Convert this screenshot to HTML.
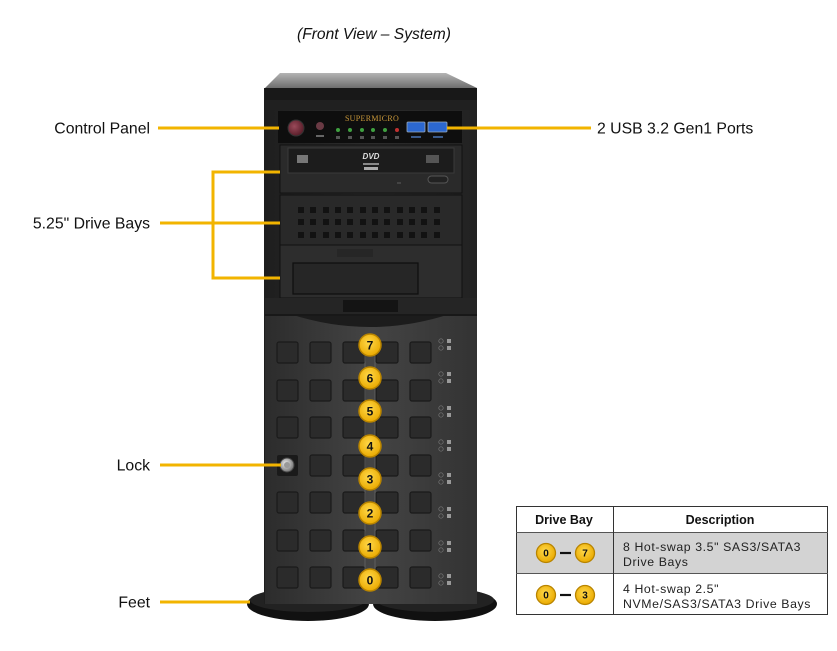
<!DOCTYPE html>
<html><head><meta charset="utf-8"><style>
html,body{margin:0;padding:0;background:#fff;}
svg{display:block;font-family:"Liberation Sans",Arial,sans-serif;}
</style></head><body>
<svg width="837" height="651" viewBox="0 0 837 651" xmlns="http://www.w3.org/2000/svg">
<defs>
<linearGradient id="topg" x1="0" y1="0" x2="0" y2="1"><stop offset="0" stop-color="#b4b4b4"/><stop offset="1" stop-color="#6e6e6e"/></linearGradient>
<linearGradient id="doorg" x1="0" y1="0" x2="1" y2="0"><stop offset="0" stop-color="#2c2c2c"/><stop offset="0.5" stop-color="#444"/><stop offset="1" stop-color="#333"/></linearGradient>
<linearGradient id="bodyg" x1="0" y1="0" x2="1" y2="0"><stop offset="0" stop-color="#1e1e1e"/><stop offset="0.5" stop-color="#2c2c2c"/><stop offset="1" stop-color="#222"/></linearGradient>
<radialGradient id="badge" cx="0.45" cy="0.4" r="0.6"><stop offset="0" stop-color="#ffd84a"/><stop offset="1" stop-color="#eaaa00"/></radialGradient>
<radialGradient id="lockg" cx="0.4" cy="0.4" r="0.6"><stop offset="0" stop-color="#eee"/><stop offset="1" stop-color="#777"/></radialGradient>
<radialGradient id="pwr" cx="0.4" cy="0.4" r="0.6"><stop offset="0" stop-color="#9a4a5a"/><stop offset="1" stop-color="#5a1e2a"/></radialGradient>
</defs>
<rect width="837" height="651" fill="#fff"/>

<text x="374" y="39" font-size="15.6" font-style="italic" text-anchor="middle" fill="#111">(Front View – System)</text>

<!-- feet -->
<ellipse cx="308" cy="604" rx="61" ry="17" fill="#111"/>
<ellipse cx="435" cy="604" rx="62" ry="17" fill="#111"/>
<ellipse cx="308" cy="600" rx="58" ry="12" fill="#222"/>
<ellipse cx="435" cy="600" rx="59" ry="12" fill="#222"/>

<!-- chassis body -->
<rect x="264" y="88" width="213" height="516" fill="url(#bodyg)"/>
<polygon points="280,73 446,73 477,88 265,88" fill="url(#topg)"/>
<rect x="265" y="88" width="212" height="22" fill="#181818"/>
<rect x="265" y="100" width="212" height="10" fill="#202020"/>

<!-- control panel -->
<rect x="278" y="111" width="184" height="32" fill="#0e0e0e"/>
<circle cx="296" cy="128" r="8" fill="url(#pwr)" stroke="#333" stroke-width="1"/>
<circle cx="320" cy="126" r="4" fill="#6a3a44"/>
<rect x="316" y="135" width="8" height="2" fill="#666"/>
<text x="372" y="121" font-family="Liberation Serif,serif" font-size="8" fill="#c9983a" text-anchor="middle" letter-spacing="0.3">SUPERMICRO</text>
<g fill="#3fa040">
<circle cx="338" cy="130" r="2"/><circle cx="350" cy="130" r="2"/><circle cx="362" cy="130" r="2"/><circle cx="373" cy="130" r="2"/><circle cx="385" cy="130" r="2"/>
</g>
<circle cx="397" cy="130" r="2" fill="#c03030"/>
<g fill="#555"><rect x="336" y="136" width="4" height="3"/><rect x="348" y="136" width="4" height="3"/><rect x="360" y="136" width="4" height="3"/><rect x="371" y="136" width="4" height="3"/><rect x="383" y="136" width="4" height="3"/><rect x="395" y="136" width="4" height="3"/></g>
<rect x="407" y="122" width="18" height="10" rx="1" fill="#2c68d0" stroke="#9ab" stroke-width="0.8"/>
<rect x="428" y="122" width="19" height="10" rx="1" fill="#2c68d0" stroke="#9ab" stroke-width="0.8"/>
<rect x="411" y="136" width="10" height="2" fill="#3a5a8a"/><rect x="433" y="136" width="10" height="2" fill="#3a5a8a"/>

<!-- optical bay -->
<rect x="280" y="145" width="182" height="48" fill="#2a2a2a" stroke="#111" stroke-width="1"/>
<rect x="288" y="148" width="166" height="25" fill="#1c1c1c" stroke="#3a3a3a" stroke-width="1"/>
<rect x="297" y="155" width="11" height="8" fill="#777"/>
<rect x="426" y="155" width="13" height="8" fill="#555"/>
<text x="371" y="159" font-size="8" font-style="italic" font-weight="bold" fill="#ddd" text-anchor="middle">DVD</text>
<rect x="363" y="163" width="16" height="2" fill="#888"/><rect x="364" y="167" width="14" height="3" fill="#aaa"/>
<rect x="428" y="176" width="20" height="7" rx="3.5" fill="#222" stroke="#555" stroke-width="1"/>
<rect x="397" y="182" width="4" height="2" fill="#444"/>

<!-- grill bay -->
<rect x="280" y="195" width="182" height="50" fill="#292929" stroke="#111" stroke-width="1"/>
<g fill="#121212">
<rect x="298" y="207" width="6" height="6"/><rect x="310" y="207" width="6" height="6"/><rect x="323" y="207" width="6" height="6"/><rect x="335" y="207" width="6" height="6"/><rect x="347" y="207" width="6" height="6"/><rect x="360" y="207" width="6" height="6"/><rect x="372" y="207" width="6" height="6"/><rect x="384" y="207" width="6" height="6"/><rect x="397" y="207" width="6" height="6"/><rect x="409" y="207" width="6" height="6"/><rect x="421" y="207" width="6" height="6"/><rect x="434" y="207" width="6" height="6"/>
<rect x="298" y="219" width="6" height="6"/><rect x="310" y="219" width="6" height="6"/><rect x="323" y="219" width="6" height="6"/><rect x="335" y="219" width="6" height="6"/><rect x="347" y="219" width="6" height="6"/><rect x="360" y="219" width="6" height="6"/><rect x="372" y="219" width="6" height="6"/><rect x="384" y="219" width="6" height="6"/><rect x="397" y="219" width="6" height="6"/><rect x="409" y="219" width="6" height="6"/><rect x="421" y="219" width="6" height="6"/><rect x="434" y="219" width="6" height="6"/>
<rect x="298" y="232" width="6" height="6"/><rect x="310" y="232" width="6" height="6"/><rect x="323" y="232" width="6" height="6"/><rect x="335" y="232" width="6" height="6"/><rect x="347" y="232" width="6" height="6"/><rect x="360" y="232" width="6" height="6"/><rect x="372" y="232" width="6" height="6"/><rect x="384" y="232" width="6" height="6"/><rect x="397" y="232" width="6" height="6"/><rect x="409" y="232" width="6" height="6"/><rect x="421" y="232" width="6" height="6"/><rect x="434" y="232" width="6" height="6"/>
</g>

<!-- third bay -->
<rect x="280" y="245" width="182" height="53" fill="#2d2d2d" stroke="#111" stroke-width="1"/>
<rect x="337" y="249" width="36" height="8" fill="#262626"/>
<rect x="293" y="263" width="125" height="31" fill="#262626" stroke="#0e0e0e" stroke-width="1.2"/>

<!-- transition band -->
<rect x="265" y="298" width="212" height="16" fill="#252525"/>
<rect x="343" y="300" width="55" height="12" fill="#141414"/>

<!-- door -->
<rect x="265" y="314" width="212" height="290" fill="url(#doorg)"/>
<path d="M290,314 Q370,340 450,314 Z" fill="#1c1c1c"/>
<rect x="265" y="314" width="212" height="2" fill="#181818"/>

<!-- squares grid -->
<g fill="#2b2b2b" stroke="#1a1a1a" stroke-width="1.2">
<rect x="277" y="342" width="21" height="21" rx="2"/><rect x="310" y="342" width="21" height="21" rx="2"/><rect x="343" y="342" width="22" height="21" rx="2"/><rect x="376" y="342" width="22" height="21" rx="2"/><rect x="410" y="342" width="21" height="21" rx="2"/>
<rect x="277" y="380" width="21" height="21" rx="2"/><rect x="310" y="380" width="21" height="21" rx="2"/><rect x="343" y="380" width="22" height="21" rx="2"/><rect x="376" y="380" width="22" height="21" rx="2"/><rect x="410" y="380" width="21" height="21" rx="2"/>
<rect x="277" y="417" width="21" height="21" rx="2"/><rect x="310" y="417" width="21" height="21" rx="2"/><rect x="343" y="417" width="22" height="21" rx="2"/><rect x="376" y="417" width="22" height="21" rx="2"/><rect x="410" y="417" width="21" height="21" rx="2"/>
<rect x="310" y="455" width="21" height="21" rx="2"/><rect x="343" y="455" width="22" height="21" rx="2"/><rect x="376" y="455" width="22" height="21" rx="2"/><rect x="410" y="455" width="21" height="21" rx="2"/>
<rect x="277" y="492" width="21" height="21" rx="2"/><rect x="310" y="492" width="21" height="21" rx="2"/><rect x="343" y="492" width="22" height="21" rx="2"/><rect x="376" y="492" width="22" height="21" rx="2"/><rect x="410" y="492" width="21" height="21" rx="2"/>
<rect x="277" y="530" width="21" height="21" rx="2"/><rect x="310" y="530" width="21" height="21" rx="2"/><rect x="343" y="530" width="22" height="21" rx="2"/><rect x="376" y="530" width="22" height="21" rx="2"/><rect x="410" y="530" width="21" height="21" rx="2"/>
<rect x="277" y="567" width="21" height="21" rx="2"/><rect x="310" y="567" width="21" height="21" rx="2"/><rect x="343" y="567" width="22" height="21" rx="2"/><rect x="376" y="567" width="22" height="21" rx="2"/><rect x="410" y="567" width="21" height="21" rx="2"/>
</g>

<!-- lock -->
<rect x="277" y="455" width="21" height="21" rx="2" fill="#1a1a1a"/>
<circle cx="287" cy="465" r="7" fill="url(#lockg)" stroke="#444" stroke-width="1"/>
<circle cx="287" cy="465" r="3" fill="#999"/>

<!-- LEDs -->
<g fill="#3a3a3a" stroke="#777" stroke-width="0.7">
<circle cx="441" cy="341" r="2.2"/><circle cx="441" cy="348" r="2.2"/>
<circle cx="441" cy="374" r="2.2"/><circle cx="441" cy="381" r="2.2"/>
<circle cx="441" cy="408" r="2.2"/><circle cx="441" cy="415" r="2.2"/>
<circle cx="441" cy="442" r="2.2"/><circle cx="441" cy="449" r="2.2"/>
<circle cx="441" cy="475" r="2.2"/><circle cx="441" cy="482" r="2.2"/>
<circle cx="441" cy="509" r="2.2"/><circle cx="441" cy="516" r="2.2"/>
<circle cx="441" cy="543" r="2.2"/><circle cx="441" cy="550" r="2.2"/>
<circle cx="441" cy="576" r="2.2"/><circle cx="441" cy="583" r="2.2"/>
</g>
<g fill="#9a9a9a">
<rect x="447" y="339" width="4" height="4"/><rect x="447" y="346" width="4" height="4"/>
<rect x="447" y="372" width="4" height="4"/><rect x="447" y="379" width="4" height="4"/>
<rect x="447" y="406" width="4" height="4"/><rect x="447" y="413" width="4" height="4"/>
<rect x="447" y="440" width="4" height="4"/><rect x="447" y="447" width="4" height="4"/>
<rect x="447" y="473" width="4" height="4"/><rect x="447" y="480" width="4" height="4"/>
<rect x="447" y="507" width="4" height="4"/><rect x="447" y="514" width="4" height="4"/>
<rect x="447" y="541" width="4" height="4"/><rect x="447" y="548" width="4" height="4"/>
<rect x="447" y="574" width="4" height="4"/><rect x="447" y="581" width="4" height="4"/>
</g>

<!-- badge connector lines -->
<line x1="365" y1="345" x2="365" y2="580" stroke="#666" stroke-width="0.8"/>
<line x1="375" y1="345" x2="375" y2="580" stroke="#666" stroke-width="0.8"/>

<!-- badges -->
<g stroke="#b88400" stroke-width="1.5" fill="url(#badge)">
<circle cx="370" cy="345" r="11"/><circle cx="370" cy="378" r="11"/><circle cx="370" cy="411" r="11"/><circle cx="370" cy="446" r="11"/>
<circle cx="370" cy="479" r="11"/><circle cx="370" cy="513" r="11"/><circle cx="370" cy="547" r="11"/><circle cx="370" cy="580" r="11"/>
</g>
<g font-size="12" font-weight="bold" fill="#111" text-anchor="middle">
<text x="370" y="349.5">7</text><text x="370" y="382.5">6</text><text x="370" y="415.5">5</text><text x="370" y="450.5">4</text>
<text x="370" y="483.5">3</text><text x="370" y="517.5">2</text><text x="370" y="551.5">1</text><text x="370" y="584.5">0</text>
</g>

<!-- callout lines -->
<g stroke="#f2b400" stroke-width="3" fill="none">
<line x1="158" y1="128" x2="279" y2="128"/>
<line x1="447" y1="128" x2="591" y2="128"/>
<line x1="160" y1="223" x2="280" y2="223"/>
<polyline points="280,172 213,172 213,278 280,278"/>
<line x1="160" y1="465" x2="281" y2="465"/>
<line x1="160" y1="602" x2="250" y2="602"/>
</g>

<!-- labels -->
<g font-size="15.8" fill="#111">
<text x="150" y="133.5" text-anchor="end">Control Panel</text>
<text x="150" y="228.5" text-anchor="end">5.25" Drive Bays</text>
<text x="150" y="470.5" text-anchor="end">Lock</text>
<text x="150" y="607.5" text-anchor="end">Feet</text>
<text x="597" y="133.5">2 USB 3.2 Gen1 Ports</text>
</g>

<!-- table -->
<rect x="516" y="532" width="312" height="42" fill="#d3d3d3"/>
<rect x="516.5" y="506.5" width="311" height="108" fill="none" stroke="#333" stroke-width="1"/>
<line x1="516" y1="532.5" x2="828" y2="532.5" stroke="#555" stroke-width="1"/>
<line x1="516" y1="573.5" x2="828" y2="573.5" stroke="#555" stroke-width="1"/>
<line x1="613.5" y1="506" x2="613.5" y2="615" stroke="#333" stroke-width="1"/>
<g font-size="12.5" font-weight="bold" fill="#111" text-anchor="middle">
<text x="564" y="524">Drive Bay</text>
<text x="720" y="524">Description</text>
</g>
<g font-size="12.3" fill="#222" letter-spacing="0.6">
<text x="623" y="551">8 Hot-swap 3.5" SAS3/SATA3</text>
<text x="623" y="566">Drive Bays</text>
<text x="623" y="593">4 Hot-swap 2.5"</text>
<text x="623" y="608">NVMe/SAS3/SATA3 Drive Bays</text>
</g>
<g stroke="#b88400" stroke-width="1.3" fill="url(#badge)">
<circle cx="546" cy="553" r="9.5"/><circle cx="585" cy="553" r="9.5"/>
<circle cx="546" cy="595" r="9.5"/><circle cx="585" cy="595" r="9.5"/>
</g>
<g stroke="#111" stroke-width="2.2">
<line x1="560" y1="553" x2="571" y2="553"/>
<line x1="560" y1="595" x2="571" y2="595"/>
</g>
<g font-size="10" font-weight="bold" fill="#111" text-anchor="middle">
<text x="546" y="556.5">0</text><text x="585" y="556.5">7</text>
<text x="546" y="598.5">0</text><text x="585" y="598.5">3</text>
</g>
</svg>
</body></html>
